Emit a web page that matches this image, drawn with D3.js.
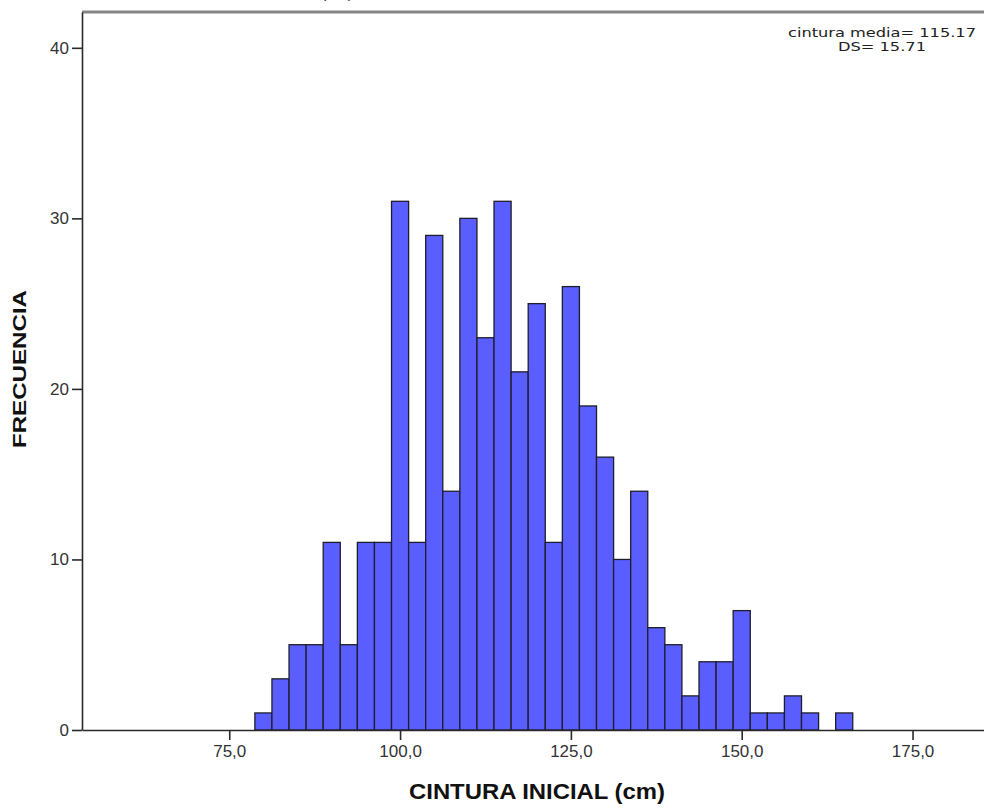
<!DOCTYPE html>
<html>
<head>
<meta charset="utf-8">
<script src="https://cdn.jsdelivr.net/npm/d3@7"></script>
<style>
  body { margin: 0; background: #fff; }
  svg { display: block; }
</style>
</head>
<body>
<svg id="grafico" width="984" height="808"></svg>
<script>
// datos del histograma (centro de cada intervalo, ancho 2.5 cm)
var centros = [80, 82.5, 85, 87.5, 90, 92.5, 95, 97.5, 100, 102.5, 105, 107.5, 110, 112.5,
               115, 117.5, 120, 122.5, 125, 127.5, 130, 132.5, 135, 137.5, 140, 142.5,
               145, 147.5, 150, 152.5, 155, 157.5, 160, 162.5, 165];
var frecuencias = [1, 3, 5, 5, 11, 5, 11, 11, 31, 11, 29, 14, 30, 23,
                   31, 21, 25, 11, 26, 19, 16, 10, 14, 6, 5, 2,
                   4, 4, 7, 1, 1, 2, 1, 0, 1];
var anchoIntervalo = 2.5;

var xTicks = [75, 100, 125, 150, 175];
var xTickLabels = ["75,0", "100,0", "125,0", "150,0", "175,0"];
var yTicks = [0, 10, 20, 30, 40];
var yTickLabels = ["0", "10", "20", "30", "40"];

var estadisticas = ["cintura media= 115.17", "DS= 15.71"];

var svg = d3.select("#grafico");
var margin = {top: 12, left: 82, bottom: 78};

// escalas calibradas sobre las marcas de la imagen
var x = d3.scaleLinear()
    .domain([53.45, 187.8])
    .range([margin.left, 1000]);
var y = d3.scaleLinear()
    .domain([0, 42.1])
    .range([730, margin.top]);

var datos = centros.map(function (c, i) { return {centro: c, n: frecuencias[i]}; });

// titulo (recortado arriba, solo asoman los parentesis)
svg.append("text")
    .attr("x", 353)
    .attr("y", -2)
    .attr("text-anchor", "end")
    .style("font-family", "'Liberation Sans', Arial, sans-serif")
    .style("font-size", "16px")
    .attr("fill", "#333")
    .text("CINTURA INICIAL (cm)");

// borde superior
svg.append("line")
    .attr("x1", margin.left).attr("x2", 1000)
    .attr("y1", margin.top).attr("y2", margin.top)
    .attr("stroke", "#858585")
    .attr("stroke-width", 3);

// barras
svg.append("g").selectAll("rect")
    .data(datos.filter(function (d) { return d.n > 0; }))
    .enter().append("rect")
    .attr("x", function (d) { return x(d.centro - anchoIntervalo / 2); })
    .attr("y", function (d) { return y(d.n); })
    .attr("width", function (d) { return x(d.centro + anchoIntervalo / 2) - x(d.centro - anchoIntervalo / 2); })
    .attr("height", function (d) { return y(0) - y(d.n); })
    .attr("fill", "#5b5eff")
    .attr("stroke", "#1e1e2a")
    .attr("stroke-width", 1.3);

// ejes
var ejeX = svg.append("g")
    .attr("transform", "translate(0," + y(0) + ")")
    .call(d3.axisBottom(x)
        .tickValues(xTicks)
        .tickFormat(function (d, i) { return xTickLabels[i]; })
        .tickSize(10)
        .tickSizeOuter(0)
        .tickPadding(5));

var ejeY = svg.append("g")
    .attr("transform", "translate(" + margin.left + ",0)")
    .call(d3.axisLeft(y)
        .tickValues(yTicks)
        .tickFormat(function (d, i) { return yTickLabels[i]; })
        .tickSize(10)
        .tickSizeOuter(0)
        .tickPadding(3));

[ejeX, ejeY].forEach(function (eje) {
    eje.select(".domain").attr("stroke", "#2a2a2a").attr("stroke-width", 1.6);
    eje.selectAll(".tick line").attr("stroke", "#2a2a2a").attr("stroke-width", 1.6);
    eje.selectAll(".tick text")
        .attr("fill", "#333")
        .style("font-family", "'Liberation Sans', Arial, sans-serif")
        .style("font-size", "17px");
});

// titulos de ejes
svg.append("text")
    .attr("x", 537)
    .attr("y", 799)
    .attr("text-anchor", "middle")
    .attr("textLength", 256)
    .attr("lengthAdjust", "spacingAndGlyphs")
    .style("font-family", "'Liberation Sans', Arial, sans-serif")
    .style("font-weight", "bold")
    .style("font-size", "22px")
    .attr("fill", "#111")
    .text("CINTURA INICIAL (cm)");

svg.append("text")
    .attr("transform", "translate(26,369) rotate(-90)")
    .attr("text-anchor", "middle")
    .attr("textLength", 158)
    .attr("lengthAdjust", "spacingAndGlyphs")
    .style("font-family", "'Liberation Sans', Arial, sans-serif")
    .style("font-weight", "bold")
    .style("font-size", "18px")
    .attr("fill", "#111")
    .text("FRECUENCIA");

// anotacion de media y desviacion
svg.append("g").selectAll("text")
    .data(estadisticas)
    .enter().append("text")
    .attr("x", 882)
    .attr("y", function (d, i) { return 37 + i * 14; })
    .attr("text-anchor", "middle")
    .attr("textLength", function (d, i) { return i == 0 ? 188 : 88; })
    .attr("lengthAdjust", "spacingAndGlyphs")
    .style("font-family", "'DejaVu Sans', Verdana, sans-serif")
    .style("font-size", "13px")
    .attr("fill", "#222")
    .text(function (d) { return d; });
</script>
</body>
</html>
